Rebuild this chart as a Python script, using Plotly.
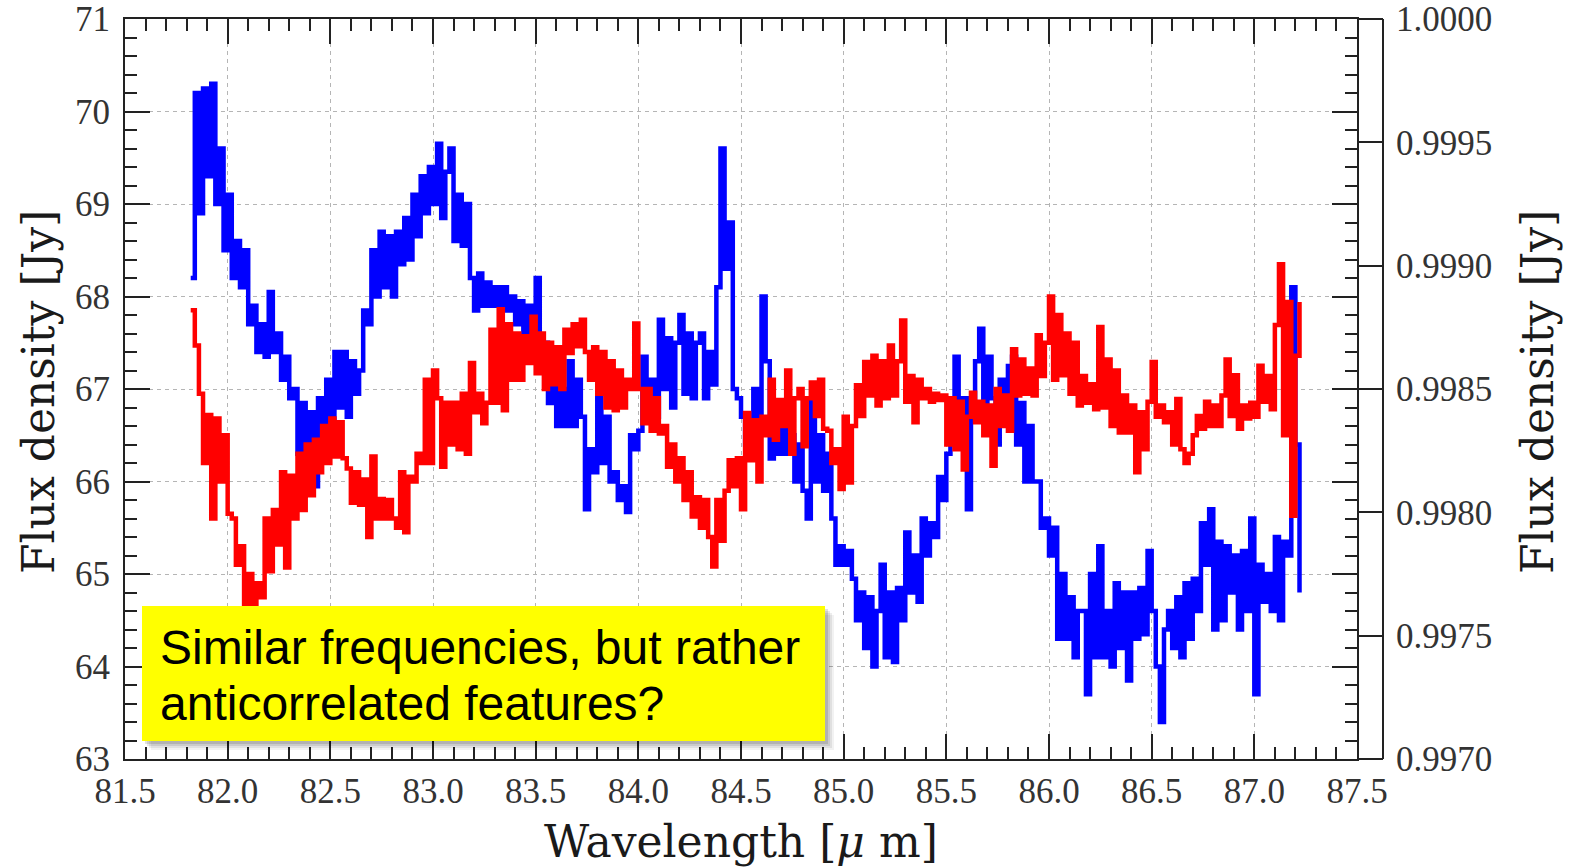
import numpy as np
import plotly.graph_objects as go

# ---- data ----
wl_start = 81.82   # first sample wavelength [um]
wl_step = 0.02     # sampling step [um]

# blue series: left axis, flux density [Jy]
blue = [
    68.2, 70.2, 68.9, 70.25, 69.3, 70.3, 69.0, 69.6, 68.5, 69.1,
    68.2, 68.6, 68.1, 68.5, 67.7, 67.9, 67.4, 67.7, 67.35, 68.05,
    67.4, 67.6, 67.1, 67.35, 66.9, 67.0, 66.3, 66.85, 66.1, 66.75,
    65.95, 66.9, 66.3, 67.1, 66.5, 67.4, 66.8, 67.4, 66.7, 67.3,
    66.95, 67.2, 67.85, 67.7, 68.5, 68.0, 68.7, 68.1, 68.65, 68.0,
    68.7, 68.35, 68.85, 68.4, 69.1, 68.65, 69.3, 68.9, 69.4, 69.0,
    69.65, 68.85, 69.35, 69.6, 68.6, 69.1, 68.55, 69.0, 68.2, 67.85,
    68.25, 67.9, 68.15, 67.9, 68.1, 67.9, 68.1, 67.85, 68.0, 67.7,
    67.95, 67.6, 67.9, 67.58, 68.2, 67.4, 67.5, 66.85, 67.1, 66.6,
    67.0, 66.6, 67.3, 66.6, 67.1, 66.7, 65.7, 66.35, 66.1, 66.9,
    66.2, 66.7, 66.0, 66.1, 65.8, 65.95, 65.67, 66.5, 66.35, 66.55,
    67.35, 66.75, 67.1, 66.7, 67.75, 67.0, 67.55, 66.8, 67.5, 67.8,
    66.95, 67.6, 66.9, 67.5, 67.6, 66.9, 67.4, 67.05, 68.1, 69.6,
    68.3, 68.8, 67.0, 66.9, 66.7, 66.4, 66.35, 67.0, 66.6, 68.0,
    67.3, 66.25, 66.7, 66.3, 66.65, 66.3, 66.5, 66.0, 66.4, 65.9,
    65.6, 66.9, 66.0, 66.5, 65.9, 66.3, 65.6, 65.1, 65.3, 65.1,
    65.25, 64.95, 64.5, 64.8, 64.2, 64.75, 64.0, 64.6, 65.1, 64.1,
    64.8, 64.05, 64.85, 64.5, 65.45, 64.8, 65.2, 64.7, 65.6, 65.2,
    65.55, 65.4, 66.05, 65.8, 66.3, 66.6, 67.35, 66.5, 66.9, 65.7,
    66.8, 67.3, 67.65, 66.8, 67.35, 66.9, 66.4, 67.1, 66.8, 67.25,
    67.35, 66.4, 66.85, 66.0, 66.6, 66.0, 66.0, 65.5, 65.6, 65.2,
    65.5, 64.3, 65.0, 64.3, 64.75, 64.1, 64.6, 64.6, 63.7, 65.0,
    64.1, 65.3, 64.1, 64.6, 64.0, 64.9, 64.2, 64.8, 63.85, 64.8,
    64.3, 64.85, 64.35, 65.25, 64.6, 64.0, 63.4, 64.4, 64.6, 64.2,
    64.75, 64.1, 64.9, 64.3, 64.95, 64.6, 65.55, 65.1, 65.7, 64.4,
    65.35, 64.5, 65.3, 64.8, 65.2, 64.4, 65.25, 64.6, 65.6, 63.7,
    65.1, 64.7, 65.0, 64.6, 65.4, 64.5, 65.35, 65.2, 68.1, 66.4,
    64.8,
]

# red series: right axis, flux density [Jy]
red = [
    0.998819, 0.998676, 0.998481, 0.998200, 0.998395, 0.997975, 0.998380, 0.998125, 0.998313, 0.997994,
    0.997975, 0.997788, 0.997863, 0.997600, 0.997750, 0.997600, 0.997713, 0.997656, 0.997975, 0.997761,
    0.998009, 0.997870, 0.998163, 0.997776, 0.998148, 0.997975, 0.998238, 0.998009, 0.998275, 0.998069,
    0.998294, 0.998163, 0.998350, 0.998200, 0.998380, 0.998226, 0.998365, 0.998219, 0.998178, 0.998039,
    0.998163, 0.998031, 0.998133, 0.997900, 0.998226, 0.997975, 0.998054, 0.997975, 0.998050, 0.997975,
    0.997938, 0.998163, 0.997919, 0.998144, 0.998125, 0.998238, 0.998200, 0.998538, 0.998200, 0.998575,
    0.998463, 0.998185, 0.998444, 0.998275, 0.998444, 0.998256, 0.998481, 0.998238, 0.998605, 0.998406,
    0.998481, 0.998361, 0.998444, 0.998740, 0.998444, 0.998823, 0.998414, 0.998763, 0.998538, 0.998725,
    0.998538, 0.998714, 0.998605, 0.998793, 0.998564, 0.998725, 0.998500, 0.998688, 0.998519, 0.998669,
    0.998500, 0.998740, 0.998646, 0.998763, 0.998673, 0.998781, 0.998650, 0.998538, 0.998669, 0.998481,
    0.998650, 0.998425, 0.998613, 0.998414, 0.998575, 0.998425, 0.998538, 0.998500, 0.998766, 0.998500,
    0.998361, 0.998500, 0.998331, 0.998463, 0.998320, 0.998350, 0.998185, 0.998275, 0.998125, 0.998219,
    0.998050, 0.998163, 0.997983, 0.998061, 0.997938, 0.998050, 0.997900, 0.997780, 0.998050, 0.997885,
    0.998088, 0.998211, 0.998106, 0.998219, 0.998013, 0.998403, 0.998211, 0.998373, 0.998125, 0.998388,
    0.998313, 0.998538, 0.998294, 0.998455, 0.998350, 0.998575, 0.998238, 0.998463, 0.998500, 0.998268,
    0.998463, 0.998526, 0.998391, 0.998538, 0.998339, 0.998331, 0.998200, 0.998256, 0.998095, 0.998388,
    0.998121, 0.998350, 0.998515, 0.998391, 0.998609, 0.998474, 0.998635, 0.998433, 0.998613, 0.998463,
    0.998676, 0.998474, 0.998613, 0.998778, 0.998448, 0.998553, 0.998365, 0.998538, 0.998463, 0.998500,
    0.998448, 0.998481, 0.998455, 0.998474, 0.998275, 0.998463, 0.998256, 0.998448, 0.998174, 0.998388,
    0.998485, 0.998365, 0.998448, 0.998313, 0.998433, 0.998189, 0.998500, 0.998350, 0.998474, 0.998331,
    0.998661, 0.998474, 0.998620, 0.998481, 0.998583, 0.998474, 0.998718, 0.998553, 0.998688, 0.998875,
    0.998538, 0.998800, 0.998556, 0.998725, 0.998481, 0.998688, 0.998433, 0.998553, 0.998444, 0.998519,
    0.998418, 0.998751, 0.998425, 0.998620, 0.998350, 0.998575, 0.998324, 0.998474, 0.998324, 0.998433,
    0.998163, 0.998406, 0.998256, 0.998448, 0.998609, 0.998388, 0.998433, 0.998365, 0.998406, 0.998275,
    0.998459, 0.998256, 0.998200, 0.998238, 0.998313, 0.998391, 0.998339, 0.998448, 0.998350, 0.998433,
    0.998350, 0.998474, 0.998620, 0.998391, 0.998556, 0.998339, 0.998433, 0.998380, 0.998444, 0.998388,
    0.998594, 0.998448, 0.998553, 0.998418, 0.998759, 0.999006, 0.998313, 0.998853, 0.997986, 0.998635,
    0.998853,
]

x_title = "Wavelength [<i>μ</i> m]"
y_title = "Flux density [Jy]"
note_lines = ["Similar frequencies, but rather", "anticorrelated features?"]

wl_blue = np.round(wl_start + wl_step * np.arange(len(blue)), 2)
wl_red = np.round(wl_start + wl_step * np.arange(len(red)), 2)

# ---- layout geometry (pixels) ----
W, H = 1571, 868
L, R, T, B = 125, 188, 19, 109
PW, PH = W - L - R, H - T - B
XD = 1232 / PW  # x-axis domain end (87.5 frame)


def px(p):
    return (p - L) / PW


def py(p):
    return (H - B - p) / PH


AX = "#222222"
TICKFONT = dict(family="Liberation Serif", size=35, color="#333333")
TITLEFONT = dict(family="DejaVu Serif", size=44, color="#1a1a1a")

fig = go.Figure()
fig.add_trace(go.Scatter(x=wl_blue, y=blue, mode="lines",
                         line=dict(color="#0000ff", width=4.5, shape="hv"),
                         yaxis="y", hoverinfo="skip"))
fig.add_trace(go.Scatter(x=wl_red, y=red, mode="lines",
                         line=dict(color="#ff0000", width=4.5, shape="hv"),
                         yaxis="y2", hoverinfo="skip"))

fig.update_layout(
    width=W, height=H,
    margin=dict(l=L, r=R, t=T, b=B, pad=0, autoexpand=False),
    paper_bgcolor="white", plot_bgcolor="white",
    showlegend=False,
    xaxis=dict(
        domain=[0, XD], range=[81.5, 87.5], tick0=81.5, dtick=0.5, tickformat=".1f",
        ticks="inside", ticklen=25, tickwidth=1.5, tickcolor=AX,
        minor=dict(tick0=81.5, dtick=0.1, ticks="inside", ticklen=12, tickwidth=1.5,
                   tickcolor=AX, showgrid=False),
        showline=True, linecolor=AX, linewidth=2, mirror="ticks",
        showgrid=True, gridcolor="#b5b5b5", gridwidth=1, griddash="4px,4px",
        zeroline=False, tickfont=TICKFONT, ticklabelstandoff=0, automargin=False,
    ),
    yaxis=dict(
        range=[63, 71], tick0=63, dtick=1,
        ticks="inside", ticklen=25, tickwidth=1.5, tickcolor=AX,
        minor=dict(tick0=63, dtick=0.2, ticks="inside", ticklen=12, tickwidth=1.5,
                   tickcolor=AX, showgrid=False),
        showline=True, linecolor=AX, linewidth=2, mirror="ticks",
        showgrid=True, gridcolor="#b5b5b5", gridwidth=1, griddash="4px,4px",
        zeroline=False, tickfont=TICKFONT, ticklabelstandoff=6, automargin=False,
    ),
    yaxis2=dict(
        overlaying="y", side="right", anchor="free", position=1.0,
        range=[0.997, 1.0], tick0=0.997, dtick=0.0005, tickformat=".4f",
        ticks="inside", ticklen=25, tickwidth=1.5, tickcolor=AX,
        showline=True, linecolor=AX, linewidth=2,
        showgrid=False, zeroline=False, tickfont=TICKFONT, ticklabelstandoff=5,
        automargin=False,
    ),
)

shapes = []
# frame extension to the right-hand axis
for yy in (0, 1):
    shapes.append(dict(type="line", xref="paper", yref="paper", x0=XD, x1=1, y0=yy, y1=yy,
                       line=dict(color=AX, width=2), layer="above"))

# note box with soft shadow
bx0, bx1, by0, by1 = 142, 825, 606, 741
for off, alpha in ((9, 0.05), (7, 0.07), (5, 0.09), (3, 0.12)):
    shapes.append(dict(type="rect", xref="paper", yref="paper",
                       x0=px(bx0 + off), x1=px(bx1 + off), y0=py(by1 + off), y1=py(by0 + off),
                       fillcolor=f"rgba(0,0,0,{alpha})", line=dict(width=0), layer="above"))
shapes.append(dict(type="rect", xref="paper", yref="paper",
                   x0=px(bx0), x1=px(bx1), y0=py(by1), y1=py(by0),
                   fillcolor="#ffff00", line=dict(width=0), layer="above"))
fig.update_layout(shapes=shapes)

ann = []
for text, yc in zip(note_lines, (647, 703)):
    ann.append(dict(text=text, xref="paper", yref="paper", x=px(158), y=py(yc),
                    xanchor="left", yanchor="middle", showarrow=False,
                    font=dict(family="Liberation Sans", size=48, color="black")))
ann.append(dict(text=x_title, xref="paper", yref="paper", x=XD / 2, y=py(841),
                xanchor="center", yanchor="middle", showarrow=False, font=TITLEFONT))
ann.append(dict(text=y_title, xref="paper", yref="paper", x=px(38), y=py(392),
                xanchor="center", yanchor="middle", showarrow=False, textangle=-90, font=TITLEFONT))
ann.append(dict(text=y_title, xref="paper", yref="paper", x=px(1537), y=py(392),
                xanchor="center", yanchor="middle", showarrow=False, textangle=-90, font=TITLEFONT))
fig.update_layout(annotations=ann)

fig.write_html("out.html")
